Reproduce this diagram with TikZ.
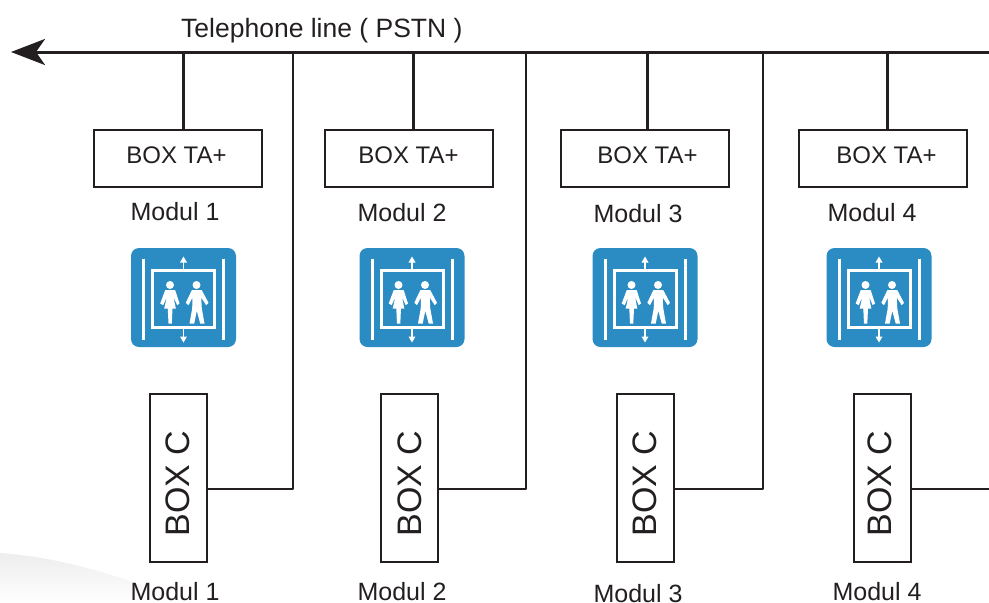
\documentclass[tikz,border=0pt]{standalone}
\usepackage{fontspec}
\setmainfont{Liberation Sans}
\usetikzlibrary{arrows.meta,calc,positioning}
\definecolor{ink}{HTML}{231F20}
\definecolor{liftblue}{HTML}{2B8CC4}
\tikzset{
    tabox/.style={draw=ink, line width=2pt, minimum width=168pt, minimum height=57pt, inner sep=0pt},
    tatext/.style={font=\fontsize{24}{26}\selectfont, text=ink, inner sep=0pt},
    cbox/.style={draw=ink, line width=2pt, minimum width=57pt, minimum height=168pt, inner sep=0pt},
    ctext/.style={rotate=90, font=\fontsize{34}{38}\selectfont, text=ink, inner sep=0pt},
    modlabel/.style={font=\fontsize{25}{27}\selectfont, text=ink, inner sep=0pt},
    telwire/.style={draw=ink, line width=3pt},
    boxwire/.style={draw=ink, line width=2pt},
    lifticon/.pic={
        \node[fill=liftblue, rounded corners=8pt, minimum width=105pt, minimum height=99pt, inner sep=0pt] (-square) at (0,0) {};
        \draw[white, line width=3pt] (-40,-39) -- (-40,42) (40,-39) -- (40,42);
        \draw[white, line width=3pt] (-31,-27) rectangle (31,30);
        \draw[white, line width=1.4pt] (0,-27) -- (0,-36) (0,30) -- (0,40);
        \fill[white] (0,-41) -- (3.5,-35) -- (-3.5,-35) -- cycle (0,45) -- (3.5,39) -- (-3.5,39) -- cycle;
        % woman
        \fill[white] (-13.5,-12.5) circle (4pt);
        \fill[white] (-18.3,-7.3) -- (-8.3,-7.3) -- (-4,6) -- (-6.3,7.7) -- (-10,-0.7) -- (-7.7,11) -- (-11,11) -- (-11.7,26) -- (-15,26) -- (-15.7,11) -- (-19.3,11) -- (-16.7,-0.7) -- (-20.3,7.7) -- (-23.3,6) -- cycle;
        % man
        \fill[white] (13,-12.5) circle (4pt);
        \fill[white] (8.3,-7.3) -- (18.3,-7.3) -- (25,5.3) -- (22.7,7.7) -- (17.7,0) -- (18.3,11) -- (21,26) -- (16.7,26) -- (13.3,13.3) -- (10.7,26) -- (6,26) -- (8.7,11) -- (9,0) -- (5,7.7) -- (2.3,5.3) -- cycle;
    }
}
\begin{document}
\begin{tikzpicture}[x=1pt, y=-1pt]
    \useasboundingbox (0,0) rectangle (989,603);

    % background swoosh
    \shade[top color=black!7, bottom color=white] (0,553) .. controls (70,558) and (130,580) .. (190,603) -- (0,603) -- cycle;

    % telephone line
    \coordinate (lineright) at (989,52);
    \coordinate (lineleft)  at (11,52);
    \node[modlabel, font=\fontsize{26.5}{28}\selectfont, anchor=west] (pstn) at (181,31) {Telephone line ( PSTN )};
    \draw[telwire, -{Stealth[length=34pt, width=26pt, inset=9pt]}] (lineright) -- (lineleft);

    % one module per row of the list
    \foreach \n/\tax/\tatextx/\topx/\topy/\iconx/\cx/\ctextx/\botx/\boty/\tapx in {
        1/178/176.5/175/212/183.5/178.5/178/175/592/183,
        2/409/408.5/402/213/412/409.5/410/402/592/413,
        3/644.5/647.5/638/214/645/645/645/638/594/647,
        4/882.5/886.5/872/213/879/882.5/880/877/592/887}
    {
        \node[tabox]    (ta\n)     at (\tax,158.5)  {};
        \node[tatext]   (tatext\n) at (\tatextx,155) {BOX TA+};
        \node[modlabel] (top\n)    at (\topx,\topy) {Modul \n};
        \pic            (lift\n)   at (\iconx,297.5) {lifticon};
        \node[cbox]     (c\n)      at (\cx,478)     {};
        \node[ctext]    (ctext\n)  at (\ctextx,483.5) {BOX C};
        \node[modlabel] (bot\n)    at (\botx,\boty) {Modul \n};
        \coordinate     (tap\n)    at (\tapx,52);
        \draw[telwire]  (tap\n) -- (tap\n |- ta\n.north);
    }

    % box C back to the line
    \foreach \n/\risex in {1/293, 2/526, 3/763}
    {
        \coordinate (rise\n)  at (\risex,52);
        \coordinate (elbow\n) at (\risex,489);
        \draw[boxwire, line join=round] (rise\n) -- (elbow\n) -- (elbow\n -| c\n.east);
    }
    \coordinate (elbow4) at (989,489);
    \draw[boxwire] (elbow4) -- (elbow4 -| c4.east);
\end{tikzpicture}
\end{document}
